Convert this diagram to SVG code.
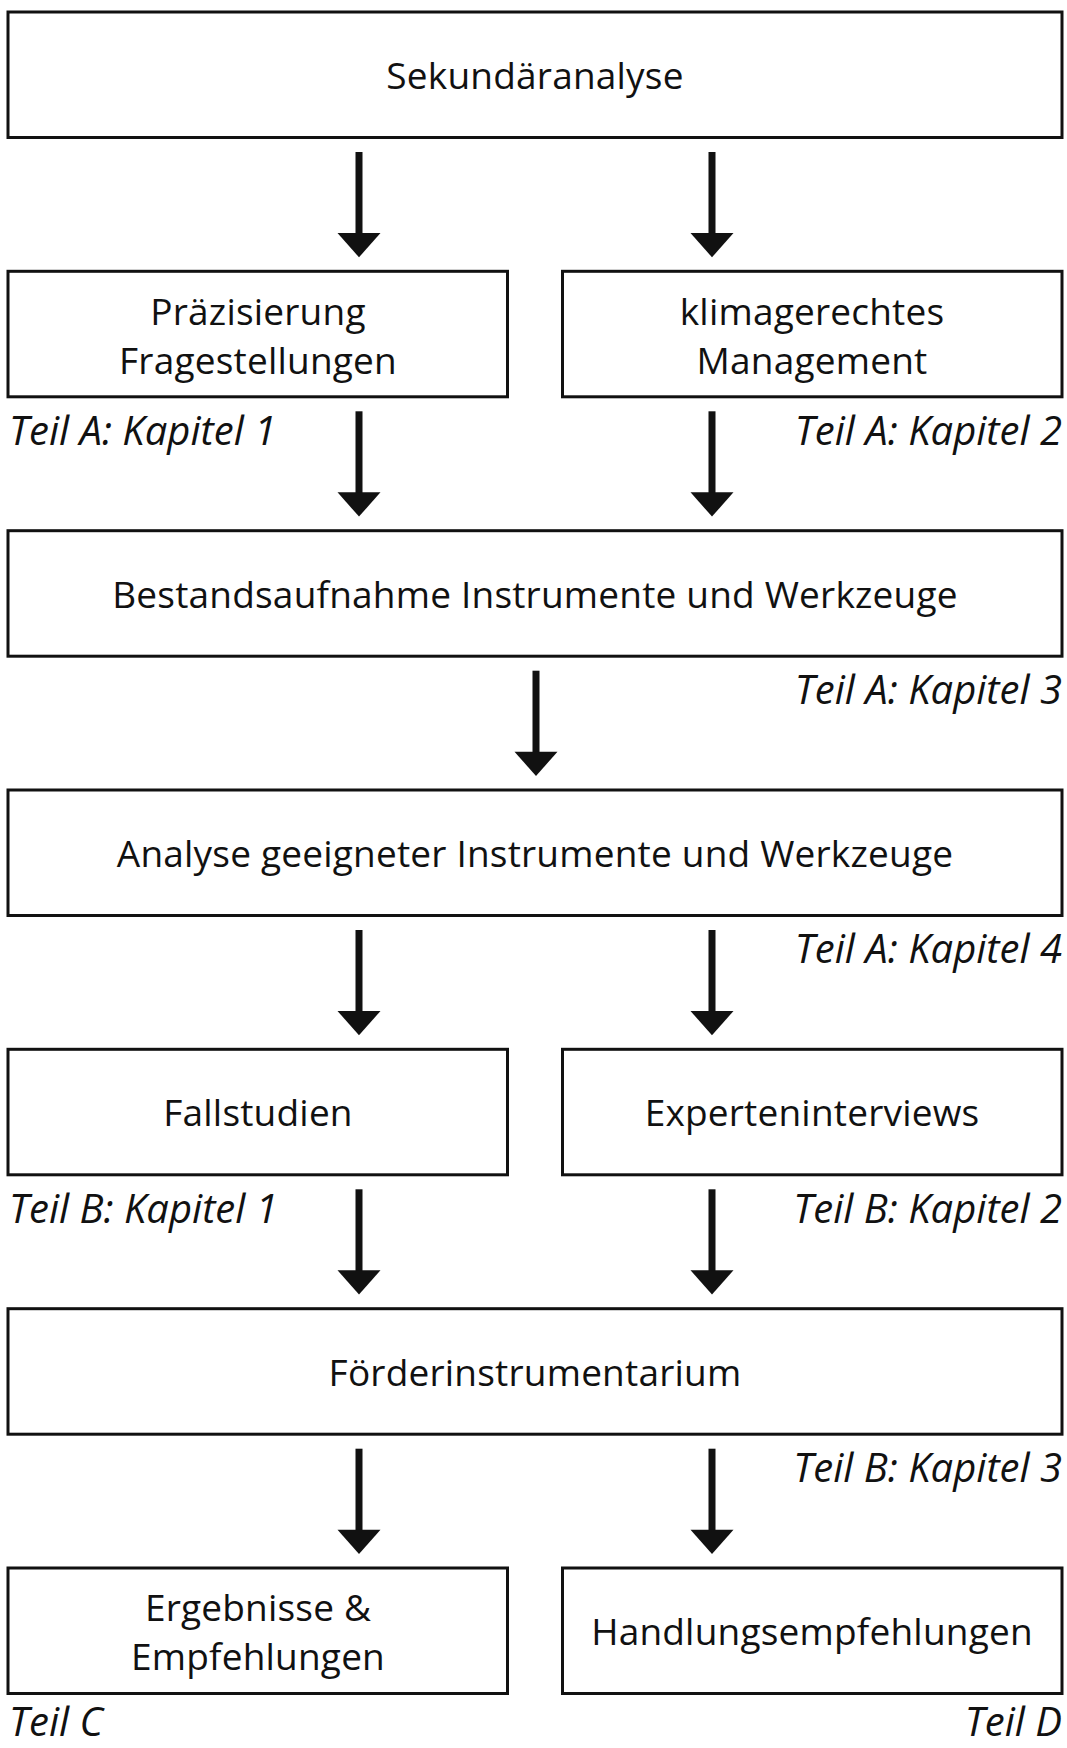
<svg xmlns="http://www.w3.org/2000/svg" xmlns:xlink="http://www.w3.org/1999/xlink" width="1067" height="1748" viewBox="0 0 1067 1748">
<style>
.box{fill:#fff;stroke:#111;stroke-width:3}
.t{font-family:"Open Sans","Noto Sans","DejaVu Sans",sans-serif;font-size:37px;letter-spacing:0.2px;fill:#111;text-anchor:middle}
.l{font-family:"Open Sans","Noto Sans","DejaVu Sans",sans-serif;font-size:40px;font-style:italic;fill:#111}
.r{text-anchor:end}
</style>
<defs>
<g id="arr">
<rect x="-3.5" y="0" width="7" height="82" fill="#111"/>
<polygon points="-21.5,81 21.5,81 0,105.3" fill="#111"/>
</g>
</defs>
<rect width="1067" height="1748" fill="#fff"/>
<g id="connectors">
<use xlink:href="#arr" x="359" y="152"/>
<use xlink:href="#arr" x="712" y="152"/>
<use xlink:href="#arr" x="359" y="411.3"/>
<use xlink:href="#arr" x="712" y="411.3"/>
<use xlink:href="#arr" x="536" y="670.7"/>
<use xlink:href="#arr" x="359" y="930"/>
<use xlink:href="#arr" x="712" y="930"/>
<use xlink:href="#arr" x="359" y="1189.3"/>
<use xlink:href="#arr" x="712" y="1189.3"/>
<use xlink:href="#arr" x="359" y="1448.7"/>
<use xlink:href="#arr" x="712" y="1448.7"/>
</g>
<g id="n1"><rect class="box" x="8" y="12" width="1054" height="125.5"/><text class="t" x="535" y="89">Sekundäranalyse</text></g>
<g id="n2"><rect class="box" x="8" y="271.3" width="499.5" height="125.5"/><text class="t" x="258" y="325">Präzisierung</text><text class="t" x="258" y="374">Fragestellungen</text></g>
<g id="n3"><rect class="box" x="562.5" y="271.3" width="499.5" height="125.5"/><text class="t" x="812" y="325">klimagerechtes</text><text class="t" x="812" y="374">Management</text></g>
<g id="n4"><rect class="box" x="8" y="530.7" width="1054" height="125.5"/><text class="t" x="535" y="607.7">Bestandsaufnahme Instrumente und Werkzeuge</text></g>
<g id="n5"><rect class="box" x="8" y="790" width="1054" height="125.5"/><text class="t" x="535" y="867">Analyse geeigneter Instrumente und Werkzeuge</text></g>
<g id="n6"><rect class="box" x="8" y="1049.3" width="499.5" height="125.5"/><text class="t" x="258" y="1126.3">Fallstudien</text></g>
<g id="n7"><rect class="box" x="562.5" y="1049.3" width="499.5" height="125.5"/><text class="t" x="812" y="1126.3">Experteninterviews</text></g>
<g id="n8"><rect class="box" x="8" y="1308.7" width="1054" height="125.5"/><text class="t" x="535" y="1385.7">Förderinstrumentarium</text></g>
<g id="n9"><rect class="box" x="8" y="1568" width="499.5" height="125.5"/><text class="t" x="258" y="1621">Ergebnisse &amp;</text><text class="t" x="258" y="1670">Empfehlungen</text></g>
<g id="n10"><rect class="box" x="562.5" y="1568" width="499.5" height="125.5"/><text class="t" x="812" y="1645">Handlungsempfehlungen</text></g>
<g id="labels">
<text class="l" x="9" y="445">Teil A: Kapitel 1</text>
<text class="l r" x="1062" y="445">Teil A: Kapitel 2</text>
<text class="l r" x="1062" y="704">Teil A: Kapitel 3</text>
<text class="l r" x="1062" y="963">Teil A: Kapitel 4</text>
<text class="l" x="9" y="1223">Teil B: Kapitel 1</text>
<text class="l r" x="1062" y="1223">Teil B: Kapitel 2</text>
<text class="l r" x="1062" y="1482">Teil B: Kapitel 3</text>
<text class="l" x="9" y="1736">Teil C</text>
<text class="l r" x="1062" y="1736">Teil D</text>
</g>
</svg>
